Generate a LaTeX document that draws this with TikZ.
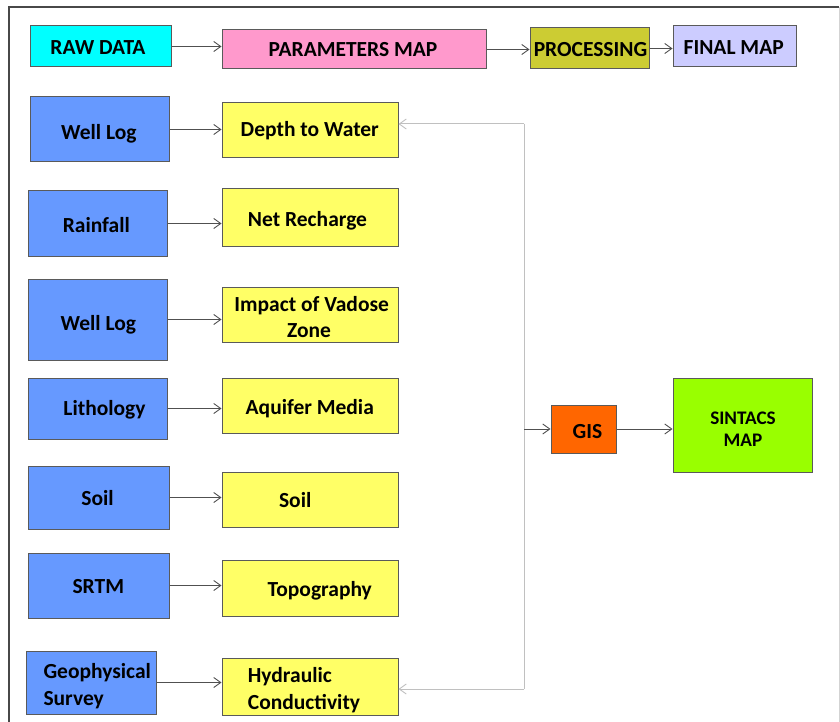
\documentclass[tikz,border=0pt]{standalone}
\usepackage{fontspec}
\setmainfont{Carlito}
\usetikzlibrary{arrows.meta}
\definecolor{cCyan}{HTML}{00FFFF}
\definecolor{cPink}{HTML}{FF99CC}
\definecolor{cOlive}{HTML}{CCCC33}
\definecolor{cLav}{HTML}{CCCCFF}
\definecolor{cBlue}{HTML}{6699FF}
\definecolor{cYel}{HTML}{FFFF66}
\definecolor{cOrg}{HTML}{FF6600}
\definecolor{cGrn}{HTML}{99FF00}
\definecolor{cBord}{HTML}{5A5A5A}
\definecolor{cArr}{HTML}{505050}
\definecolor{cLight}{HTML}{C0C0C0}
\begin{document}
\begin{tikzpicture}[x=1pt,y=-1pt,
  bx/.style n args={3}{draw=cBord,line width=1pt,inner sep=0pt,fill=#1,minimum width=#2,minimum height=#3},
  txt/.style={inner sep=0pt,anchor=base,font=\fontsize{21.5}{25}\selectfont\bfseries},
  txtl/.style={txt,anchor=base west},
  txts/.style={txt,font=\fontsize{19.2}{25}\selectfont\bfseries},
  arr/.style={draw=cArr,line width=0.9pt,-{Straight Barb[length=7pt,width=10pt,line width=0.9pt]}},
  garr/.style={draw=cLight,line width=1pt,-{Straight Barb[length=7pt,width=10pt,line width=0.9pt]}},
  gline/.style={draw=cLight,line width=1pt}]
\useasboundingbox (0,0) rectangle (840,722);
% frame
\draw[draw=cBord!80!black,line width=1.8pt] (9,722) -- (9,7) -- (839,7);
\draw[draw=cLight!70,line width=1pt] (839,7) -- (839,722);
% top row
\node[bx={cCyan}{141pt}{41pt}] (raw) at (100.5,46.5) {};
\node[bx={cPink}{264pt}{39pt}] (param) at (354,49.5) {};
\node[bx={cOlive}{119pt}{41pt}] (proc) at (589.5,48.5) {};
\node[bx={cLav}{123pt}{41pt}] (final) at (734.5,46.5) {};
\node[txt] (traw) at (98,55) {RAW DATA};
\node[txt] (tparam) at (353,57) {PARAMETERS MAP};
\node[txt] (tproc) at (590.5,57) {PROCESSING};
\node[txt] (tfinal) at (733.7,55) {FINAL MAP};
\draw[arr] (raw.east) -- (raw.east -| param.west);
\draw[arr] (param.east) -- (param.east -| proc.west);
\draw[arr] (proc.east) -- (proc.east -| final.west);
% raw data column
\node[bx={cBlue}{139pt}{65pt}] (wl1) at (99.5,129.5) {};
\node[bx={cBlue}{139pt}{65pt}] (rain) at (97.5,223.5) {};
\node[bx={cBlue}{139pt}{81pt}] (wl2) at (97.5,319.5) {};
\node[bx={cBlue}{139pt}{61pt}] (lith) at (97.5,408.5) {};
\node[bx={cBlue}{141pt}{63pt}] (soilb) at (98.5,497.5) {};
\node[bx={cBlue}{141pt}{65pt}] (srtm) at (98.5,585.5) {};
\node[bx={cBlue}{130pt}{63pt}] (geo) at (91,682.5) {};
\node[txt] (twl1) at (98.8,140) {Well Log};
\node[txt] (train) at (96.3,232.7) {Rainfall};
\node[txt] (twl2) at (98.3,330.7) {Well Log};
\node[txt] (tlith) at (104.5,415) {Lithology};
\node[txt] (tsoilb) at (97.5,505.7) {Soil};
\node[txt] (tsrtm) at (98.3,593.3) {SRTM};
\node[txtl] (tgeo1) at (43.3,678.3) {Geophysical};
\node[txtl] (tgeo2) at (43.3,705) {Survey};
% parameters column
\node[bx={cYel}{176pt}{55pt}] (dtw) at (310,130.5) {};
\node[bx={cYel}{176pt}{57pt}] (nr) at (310,217.5) {};
\node[bx={cYel}{176pt}{55pt}] (ivz) at (310,314.5) {};
\node[bx={cYel}{176pt}{55pt}] (am) at (310,405.5) {};
\node[bx={cYel}{176pt}{55pt}] (soily) at (310,499.5) {};
\node[bx={cYel}{176pt}{56pt}] (topo) at (310,588) {};
\node[bx={cYel}{176pt}{57pt}] (hc) at (310,686.5) {};
\node[txt] (tdtw) at (309.8,136.7) {Depth to Water};
\node[txt] (tnr) at (307.5,226.7) {Net Recharge};
\node[txt] (tivz1) at (311.7,311.7) {Impact of Vadose};
\node[txt] (tivz2) at (309,337.3) {Zone};
\node[txt] (tam) at (309.8,414) {Aquifer Media};
\node[txt] (tsoily) at (295.2,507.3) {Soil};
\node[txt] (ttopo) at (319.7,596.7) {Topography};
\node[txtl] (thc1) at (247.7,682.7) {Hydraulic};
\node[txtl] (thc2) at (247.7,709.3) {Conductivity};
\draw[arr] (wl1.east) -- (wl1.east -| dtw.west);
\draw[arr] (rain.east) -- (rain.east -| nr.west);
\draw[arr] (wl2.east) -- (wl2.east -| ivz.west);
\draw[arr] (lith.east) -- (lith.east -| am.west);
\draw[arr] (soilb.east) -- (soilb.east -| soily.west);
\draw[arr] (srtm.east) -- (srtm.east -| topo.west);
\draw[arr] (geo.east) -- (geo.east -| hc.west);
% GIS and output
\node[bx={cOrg}{65pt}{48pt}] (gis) at (583.5,429) {};
\node[bx={cGrn}{139pt}{94pt}] (sint) at (742.5,425) {};
\node[txt] (tgis) at (587.5,438.3) {GIS};
\node[txts] (tsint1) at (743,424) {SINTACS};
\node[txts] (tsint2) at (743,446.7) {MAP};
\coordinate (t1) at (524,124);
\coordinate (t2) at (524,689);
\draw[gline] (t1) -- (t2);
\draw[garr] (t1) -- (t1 -| dtw.east);
\draw[garr] (t2) -- (t2 -| hc.east);
\draw[arr] (t1 |- gis.west) -- (gis.west);
\draw[arr] (gis.east) -- (gis.east -| sint.west);
\end{tikzpicture}
\end{document}
